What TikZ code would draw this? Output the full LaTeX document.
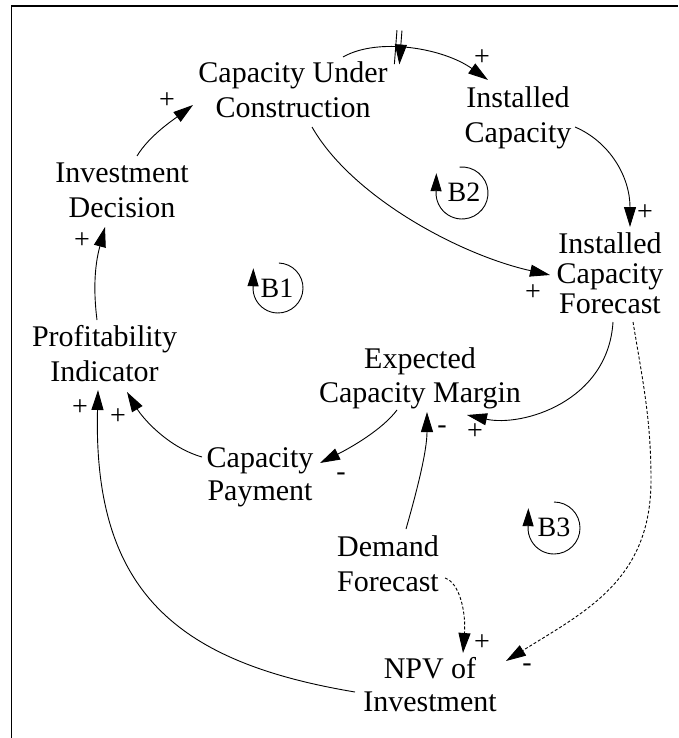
\documentclass[tikz,border=0pt]{standalone}
\usepackage{fontspec}
\setmainfont{Liberation Serif}
\usetikzlibrary{arrows.meta,decorations.markings}
\begin{document}
\begin{tikzpicture}[x=1pt,y=-1pt,
  var/.style={align=center,inner sep=0pt,font=\fontsize{30}{35}\selectfont},
  sgn/.style={inner sep=0pt,font=\fontsize{28}{30}\selectfont},
  loopname/.style={inner sep=0pt,font=\fontsize{28}{30}\selectfont},
  link/.style={line width=0.9pt,-{Triangle[length=20pt,width=12pt]}},
  dlink/.style={link,dash pattern=on 3pt off 2pt},
  looparc/.style={line width=0.9pt,-{Triangle[length=18pt,width=11pt]}}]
\useasboundingbox (0,0) rectangle (678,738);
\draw[line width=1.8pt] (11.5,738) -- (11.5,6) -- (678,6);

% variables
\node[var] (cuc) at (293,90) {Capacity Under\\Construction};
\node[var] (ic) at (518,117.5) {Installed\\Capacity};
\node[var,font=\fontsize{30}{30}\selectfont] (icf) at (610,273) {Installed\\Capacity\\Forecast};
\node[var] (id) at (122,190) {Investment\\Decision};
\node[var] (pi) at (104.5,354) {Profitability\\Indicator};
\node[var,font=\fontsize{30}{34}\selectfont] (ecm) at (420,378) {Expected\\Capacity Margin};
\node[var,font=\fontsize{30}{33}\selectfont] (cp) at (260,477) {Capacity\\Payment};
\node[var] (df) at (388,564) {Demand\\Forecast};
\node[var,font=\fontsize{30}{33}\selectfont] (npv) at (430,685) {NPV of\\Investment};

% links
\draw[link,decoration={markings,mark=at position 0.37 with {\draw[line width=0.9pt] (-2.5,-17)--(-2.5,17) (2.5,-17)--(2.5,17);}},postaction=decorate]
  ([shift={(50,-33)}]cuc.center) .. controls +(35,-20) and +(-45,-32) .. ([shift={(-30,-37.5)}]ic.center);
\draw[link] ([shift={(19,37)}]cuc.center) .. controls +(40,70) and +(-90,-20) .. ([shift={(-60,2)}]icf.center);
\draw[link] ([shift={(57,9.5)}]ic.center) .. controls +(35,15) and +(0,-50) .. ([shift={(20,-46)}]icf.center);
\draw[link] ([shift={(3,49)}]icf.center) .. controls +(-5,80) and +(55,12) .. ([shift={(47,37)}]ecm.center);
\draw[dlink] ([shift={(23,49)}]icf.center) .. controls +(10,60) and +(0,-60) .. ([shift={(41,207)}]icf.center) .. controls +(0,100) and +(80,-50) .. ([shift={(76,-24)}]npv.center);
\draw[link] ([shift={(-23,32)}]ecm.center) .. controls +(-15,20) and +(30,-15) .. ([shift={(60,-14)}]cp.center);
\draw[link] ([shift={(18,-35)}]df.center) .. controls +(10,-35) and +(0,40) .. ([shift={(7,34)}]ecm.center);
\draw[link] ([shift={(-58,-20)}]cp.center) .. controls +(-35,-10) and +(15,25) .. ([shift={(22.5,38)}]pi.center);
\draw[link] ([shift={(-75,7)}]npv.center) .. controls +(-180,-30) and +(-5,200) .. ([shift={(-6.5,36)}]pi.center);
\draw[dlink] ([shift={(57,14)}]df.center) .. controls +(15,5) and +(3,-40) .. ([shift={(33,-32)}]npv.center);
\draw[link] ([shift={(15,-34)}]id.center) .. controls +(12,-20) and +(-20,15) .. ([shift={(-100,15)}]cuc.center);
\draw[link] ([shift={(-7.5,-34)}]pi.center) .. controls +(-5,-40) and +(-8,30) .. ([shift={(-17,37)}]id.center);

% polarities
\node[sgn] (s1) at (482,58) {+};
\node[sgn] (s2) at (645,213) {+};
\node[sgn] (s3) at (533,293) {+};
\node[sgn] (s4) at (475,432) {+};
\node[sgn] (s5) at (442,430) {-};
\node[sgn] (s6) at (341,477) {-};
\node[sgn] (s7) at (118,417) {+};
\node[sgn] (s8) at (80,408) {+};
\node[sgn] (s9) at (82,241) {+};
\node[sgn] (s10) at (167,101) {+};
\node[sgn] (s11) at (482,643) {+};
\node[sgn] (s12) at (527,668) {-};

% loop markers
\node[loopname] (b1) at (277,288) {B1};
\draw[looparc] (278,288) ++(-88:25) arc[start angle=-88,end angle=184,radius=25] -- ++(0.3,-18);
\node[loopname] (b2) at (464,192) {B2};
\draw[looparc] (462,193) ++(-95:26) arc[start angle=-95,end angle=184,radius=26] -- ++(0.3,-18);
\node[loopname] (b3) at (554,527) {B3};
\draw[looparc] (554,528) ++(-90:26) arc[start angle=-90,end angle=184,radius=26] -- ++(0.3,-18);
\end{tikzpicture}
\end{document}
